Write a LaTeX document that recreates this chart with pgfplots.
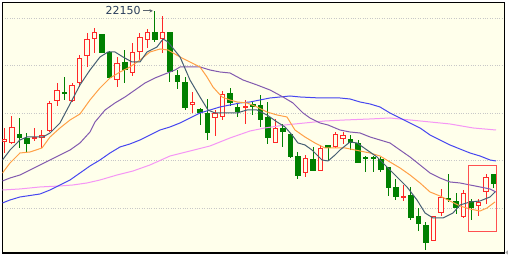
\documentclass[border=0pt]{standalone}
\usepackage{pgfplots}
\pgfplotsset{compat=1.18}
\usepackage{pgfplotstable}
\usepackage{fontspec}
\setmainfont{DejaVu Sans}
\usetikzlibrary{arrows.meta}

\definecolor{bg}{RGB}{255,255,235}
\definecolor{upred}{RGB}{255,40,40}
\definecolor{dngreen}{RGB}{0,128,0}
\definecolor{maA}{RGB}{70,95,115}
\definecolor{maB}{RGB}{255,160,70}
\definecolor{maC}{RGB}{130,90,175}
\definecolor{maD}{RGB}{70,70,240}
\definecolor{maE}{RGB}{245,150,245}
\definecolor{gridc}{RGB}{200,200,200}
\definecolor{lblc}{RGB}{40,60,90}
\definecolor{arrc}{RGB}{90,100,110}
\definecolor{boxred}{RGB}{255,80,80}

% rising candles (red, hollow)
\pgfplotstableread{
x open high low close
1 19390 19685 19158 19453
2 19369 19937 19348 19706
5 19453 19685 19411 19495
6 19474 19642 19264 19537
7 19621 20253 19600 20211
8 20253 20632 20148 20484
10 20253 20632 20232 20590
11 20632 21221 20548 21158
12 21200 21684 20969 21558
13 21558 21790 21263 21705
16 20695 21179 20548 21053
18 20842 21474 20779 21284
19 21284 21684 21116 21600
20 21537 21768 21369 21705
22 21558 22042 21263 21705
26 20169 20442 20000 20232
29 19895 20063 19516 20000
30 19916 20463 19853 20400
33 20106 20274 19769 20148
37 19369 19874 19369 19685
41 18737 19116 18653 19053
43 18779 19327 18779 19264
45 19285 19600 19264 19558
46 19453 19600 19348 19537
54 18211 18485 18148 18253
58 17306 17832 17306 17832
59 17895 18401 17832 18232
62 17811 18379 17790 18316
64 18043 18190 17832 18127
65 18337 18716 18085 18653
}\uptable

% falling candles (green, filled)
\pgfplotstableread{
x open high low close
3 19558 19895 19264 19474
4 19474 19579 19179 19348
9 20442 20758 20274 20400
14 21663 21663 21263 21263
15 21284 21305 20737 20737
17 21074 21326 20632 20905
21 21705 22150 21495 21537
23 21705 21705 20653 20863
24 20800 20905 20506 20653
25 20653 20758 20063 20106
27 20085 20106 19748 20000
28 20000 20295 19432 19579
31 20421 20527 20148 20211
32 20127 20211 19916 20021
34 20190 20232 19958 20127
35 20169 20379 19706 19853
36 19916 20232 19348 19474
38 19685 19769 19285 19600
39 19558 19579 19053 19074
40 19095 19179 18611 18674
42 19032 19285 18779 18779
44 19327 19327 19011 19264
47 19453 19537 19221 19369
48 19369 19432 18948 18948
49 19074 19095 18758 19032
50 19074 19095 18758 19032
51 19032 19074 18758 18800
52 18864 18864 18253 18422
53 18443 18611 18169 18232
55 18274 18443 17748 17790
56 17832 18000 17516 17664
57 17643 17706 17116 17264
60 18211 18716 18127 18169
61 18148 18316 17874 18000
63 18148 18190 17748 18000
66 18716 18716 18422 18506
}\dntable

\pgfplotstableread{
x y
0.76 19011
1.76 19221
3.08 19432
4.01 19495
6.14 19495
7.07 19579
8.40 19790
9.73 20190
11.05 20590
12.38 20905
13.71 21179
14.77 21284
15.70 21284
16.76 21179
17.96 21074
19.02 21074
19.95 21284
21.28 21390
22.08 21558
22.74 21495
24.34 21179
25.66 20695
26.99 20337
28.05 20063
28.98 20000
30.57 20000
31.90 20000
33.23 20063
34.56 20063
35.89 19958
37.22 19811
38.28 19706
39.21 19537
40.00 19369
40.93 19327
41.86 19221
43.19 19011
43.99 18990
44.92 19116
45.58 19221
46.91 19390
47.84 19369
49.17 19221
50.50 19074
51.82 18864
53.15 18653
54.48 18443
55.81 18169
56.88 17895
57.93 17790
59.26 17790
60.59 17895
61.52 18064
62.85 18127
64.18 18148
65.50 18232
66.17 18337
}\maAtab

\pgfplotstableread{
x y
0.76 18737
1.76 18948
3.08 19158
4.41 19179
6.01 19264
7.07 19495
8.40 19685
9.73 19853
11.05 19979
12.38 20274
13.71 20527
15.04 20737
16.37 20863
17.69 20969
19.02 21116
20.35 21284
21.68 21347
22.74 21326
24.34 21179
25.66 21074
26.99 20969
27.92 20758
28.71 20548
29.91 20337
30.97 20274
31.90 20232
33.23 20211
34.56 20127
35.89 20021
37.22 19958
38.54 19916
39.60 19642
40.93 19495
42.26 19369
43.59 19264
44.92 19264
46.25 19264
48.24 19200
49.57 19158
50.89 19095
52.22 18969
53.55 18843
54.88 18695
56.21 18527
57.54 18337
58.86 18253
60.19 18148
61.52 18043
62.85 17979
64.18 17937
65.11 18001
66.17 18127
}\maBtab

\pgfplotstableread{
x y
0.76 18569
1.76 18632
3.08 18695
4.41 18800
5.74 18906
7.07 19011
8.40 19116
9.73 19221
11.05 19369
12.38 19600
13.05 19811
14.38 20063
15.70 20211
17.03 20337
18.36 20484
19.69 20632
21.01 20737
22.34 20821
23.67 20905
24.34 20969
25.66 20969
26.99 20969
28.32 20905
29.65 20863
30.97 20842
32.70 20695
34.56 20590
36.29 20484
38.01 20337
39.34 20211
40.67 20000
41.60 19895
42.93 19790
43.99 19748
45.58 19642
46.91 19600
48.24 19579
49.57 19495
50.89 19432
52.22 19369
53.55 19221
54.88 19074
56.21 18906
57.54 18737
58.86 18632
60.19 18548
61.52 18527
62.85 18485
64.18 18443
65.50 18401
66.30 18337
}\maCtab

\pgfplotstableread{
x y
0.76 18106
1.76 18169
3.08 18232
5.74 18295
7.07 18379
8.40 18485
9.73 18590
11.05 18737
12.38 18885
13.71 19011
15.04 19158
16.37 19285
17.69 19348
19.02 19432
20.35 19537
21.68 19642
23.01 19706
24.34 19790
25.66 19895
26.99 20000
28.32 20063
29.65 20127
30.97 20169
32.30 20211
33.63 20232
34.96 20274
36.29 20316
37.61 20337
38.94 20358
40.27 20337
42.93 20316
45.58 20316
46.91 20295
48.24 20232
49.57 20190
50.89 20127
52.22 20000
53.55 19895
54.88 19790
56.21 19685
57.54 19537
58.86 19432
60.19 19327
61.52 19242
62.85 19158
64.18 19095
65.50 19011
66.30 18990
}\maDtab

\pgfplotstableread{
x y
0.76 18379
3.08 18401
5.74 18443
8.40 18464
10.12 18485
11.98 18527
13.71 18590
15.97 18695
18.09 18779
20.35 18906
23.01 19095
25.66 19200
28.32 19306
30.97 19474
33.63 19621
35.62 19685
38.28 19748
40.93 19790
43.59 19832
46.25 19853
49.57 19874
52.22 19895
56.21 19832
60.19 19769
63.25 19685
66.30 19642
}\maEtab

\pgfplotsset{candle/.style={draw=none, no markers, forget plot,
  error bars/y dir=plus, error bars/y explicit, error bars/error mark=none}}

\begin{document}
\begin{tikzpicture}
\path[use as bounding box] (-2.5pt,-3pt) rectangle (505.5pt,253pt);
\begin{axis}[
  at={(0pt,0pt)}, anchor=south west,
  scale only axis, width=502pt, height=250.5pt,
  xmin=0.761, xmax=67.43, ymin=17053, ymax=22326,
  xtick=\empty, ytick={18000,19000,20000,21000,22000}, yticklabels={},
  major tick length=0pt,
  ymajorgrids, grid style={dotted, gridc, line width=0.7pt},
  axis line style={black, line width=1.2pt},
  axis background/.style={fill=bg},
]
% wicks
\addplot[candle, error bars/error bar style={line width=1pt, draw=upred, solid}]
  table[x=x, y=low, y error plus expr=\thisrow{high}-\thisrow{low}] {\uptable};
\addplot[candle, error bars/error bar style={line width=1pt, draw=dngreen, solid}]
  table[x=x, y=low, y error plus expr=\thisrow{high}-\thisrow{low}] {\dntable};
% green bodies
\addplot[candle, error bars/error bar style={line width=5.5pt, draw=dngreen, solid}]
  table[x=x, y=close, y error plus expr={max(\thisrow{open}-\thisrow{close},21)}] {\dntable};
% red hollow bodies
\addplot[candle, error bars/error bar style={line width=5.5pt, draw=upred, solid}]
  table[x=x, y=open, y error plus expr={max(\thisrow{close}-\thisrow{open},42)}] {\uptable};
\addplot[candle, error bars/error bar style={line width=3.5pt, draw=bg, solid}]
  table[x=x, y expr=\thisrow{open}+21, y error plus expr={max(\thisrow{close}-\thisrow{open}-42,0)}] {\uptable};
% moving averages
\addplot[maE, line width=1pt, mark=none] table[x=x,y=y] {\maEtab};
\addplot[maD, line width=1pt, mark=none] table[x=x,y=y] {\maDtab};
\addplot[maC, line width=1pt, mark=none] table[x=x,y=y] {\maCtab};
\addplot[maB, line width=1pt, mark=none] table[x=x,y=y] {\maBtab};
\addplot[maA, line width=1pt, mark=none] table[x=x,y=y] {\maAtab};
% annotations
\node[anchor=east, inner sep=0pt, text=lblc, font=\fontsize{11}{12}\selectfont, xshift=-14pt] at (axis cs:21,22150) {22150};
\draw[arrc, line width=0.8pt, -{Stealth[length=3.5pt,width=3.5pt]}] ([xshift=-12pt]axis cs:21,22150) -- ([xshift=-2pt]axis cs:21,22150);
\draw[boxred, line width=1pt] (axis cs:62.65,18885) rectangle (axis cs:66.41,17516);
\end{axis}
\fill[gray!70] (502.8pt,0.5pt) -- (505.3pt,2.5pt) -- (505.3pt,-1.5pt) -- cycle;
\end{tikzpicture}
\end{document}
